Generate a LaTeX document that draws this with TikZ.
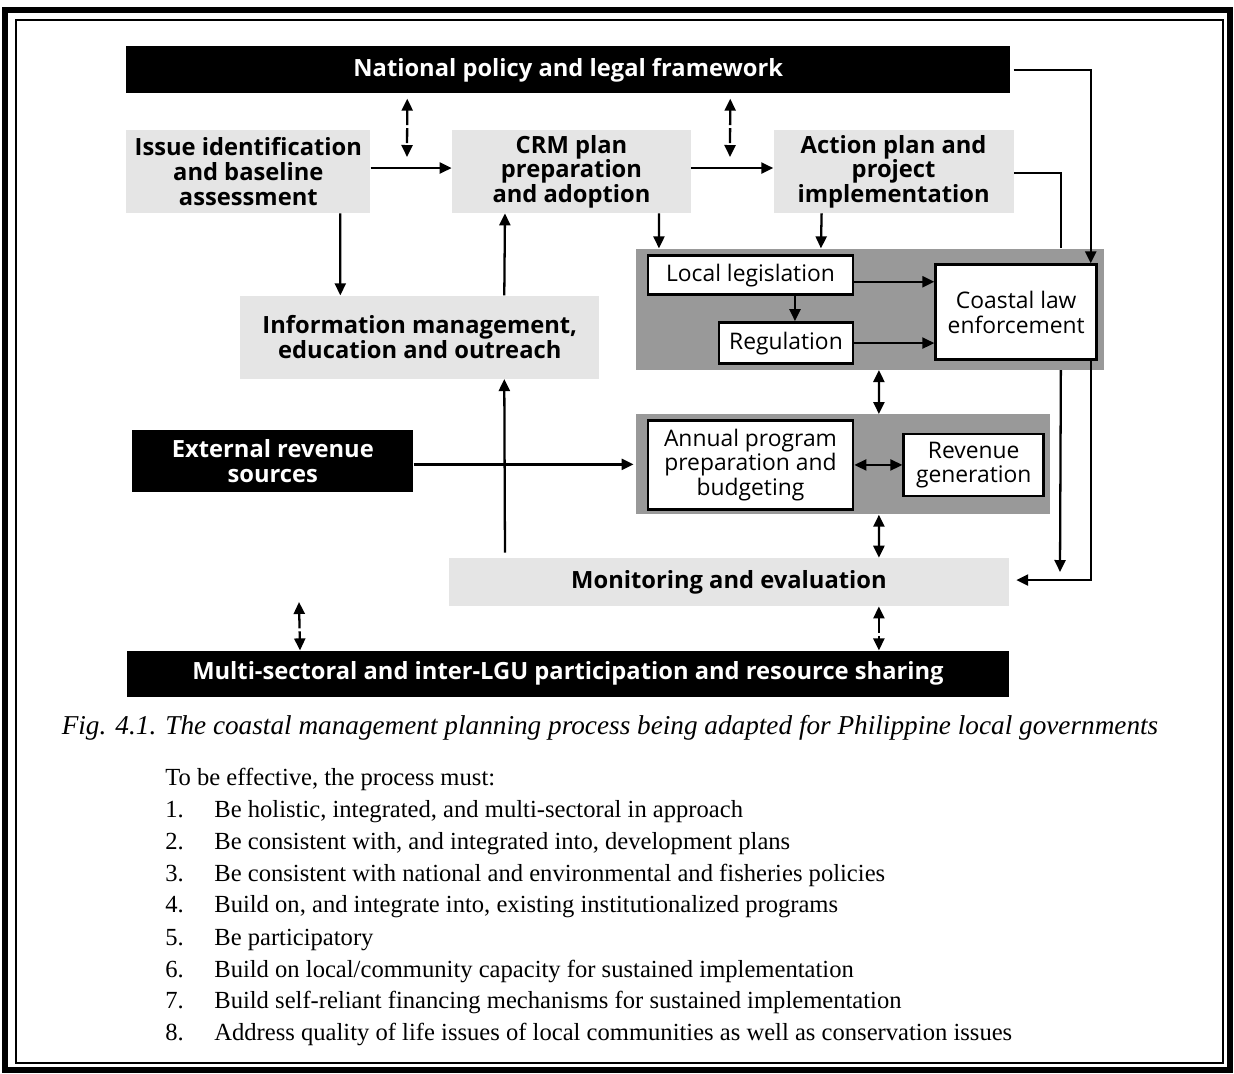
\documentclass[tikz,border=0pt]{standalone}
\usepackage{fontspec}
\setmainfont{Liberation Serif}
\setsansfont{Open Sans}
\usetikzlibrary{arrows.meta}

\begin{document}
\begin{tikzpicture}[x=0.02cm,y=-0.02cm]

\tikzstyle{barnode}=[rectangle,inner sep=0mm,fill=black,text=white,font=\sffamily\bfseries\fontsize{13.5}{14}\selectfont]
\tikzstyle{stepnode}=[rectangle,inner sep=0mm,fill=black!10,align=center,font=\sffamily\bfseries\fontsize{13.5}{14}\selectfont]
\tikzstyle{panelnode}=[rectangle,inner sep=0mm,fill=black!40]
\tikzstyle{whitenode}=[rectangle,inner sep=0mm,fill=white,draw,line width=1.6pt,align=center,font=\sffamily\fontsize{13}{14}\selectfont]
\tikzstyle{listnode}=[anchor=base west,inner sep=0mm,font=\fontsize{14}{15}\selectfont]
\tikzstyle{arr}=[-{Triangle[length=0.24cm,width=0.22cm]},line width=1.3pt]
\tikzstyle{darr}=[{Triangle[length=0.24cm,width=0.22cm]}-{Triangle[length=0.24cm,width=0.22cm]},line width=1.3pt]
\tikzstyle{dashdarr}=[darr,dash pattern=on 0.3cm off 0.06cm]

\useasboundingbox (0,0) rectangle (1234,1073);

% frame
\draw[line width=3.4pt] (5,10) rectangle (1230,1070);
\draw[line width=0.8pt] (16,20) rectangle (1223,1063);

\begin{scope}[]

\node [anchor=north west,barnode,minimum width=17.68cm,minimum height=0.94cm] (nat) at (126,46){National policy and legal framework};
\node [anchor=north west,stepnode,minimum width=4.88cm,minimum height=1.66cm] (issue) at ([xshift=0cm,yshift=-0.72cm]nat.south west){Issue identification\\and baseline\\assessment};
\node [anchor=west,stepnode,minimum width=4.78cm,minimum height=1.66cm] (crm) at ([xshift=1.62cm,yshift=0cm]issue.east){CRM plan\\preparation\\and adoption};
\node [anchor=west,stepnode,minimum width=4.8cm,minimum height=1.66cm] (action) at ([xshift=1.64cm,yshift=0cm]crm.east){Action plan and\\project\\implementation};
\node [anchor=north west,stepnode,minimum width=7.18cm,minimum height=1.66cm] (info) at ([xshift=2.28cm,yshift=-1.64cm]issue.south west){Information management,\\education and outreach};

\node [anchor=north west,panelnode,minimum width=9.36cm,minimum height=2.42cm] (panel1) at ([xshift=3.68cm,yshift=-0.7cm]crm.south west){};
\node [anchor=north west,whitenode,minimum width=4.1cm,minimum height=0.78cm] (local) at ([xshift=0.22cm,yshift=-0.12cm]panel1.north west){Local legislation};
\node [anchor=north east,whitenode,minimum width=2.68cm,minimum height=0.82cm] (reg) at ([xshift=0cm,yshift=-0.5cm]local.south east){Regulation};
\node [anchor=north west,whitenode,minimum width=3.22cm,minimum height=1.9cm] (coastal) at ([xshift=1.6cm,yshift=-0.18cm]local.north east){Coastal law\\enforcement};

\node [anchor=north west,panelnode,minimum width=8.28cm,minimum height=2cm] (panel2) at ([xshift=0cm,yshift=-0.88cm]panel1.south west){};
\node [anchor=north west,whitenode,minimum width=4.1cm,minimum height=1.78cm] (annual) at ([xshift=0.22cm,yshift=-0.1cm]panel2.north west){Annual program\\preparation and\\budgeting};
\node [anchor=west,whitenode,minimum width=2.8cm,minimum height=1.24cm] (revenue) at ([xshift=0.96cm,yshift=0cm]annual.east){Revenue\\generation};

\node [anchor=east,barnode,align=center,minimum width=5.62cm,minimum height=1.24cm] (ext) at ([xshift=-4.44cm,yshift=0.06cm]panel2.west){External revenue\\sources};
\node [anchor=north east,stepnode,minimum width=11.2cm,minimum height=0.96cm] (monitor) at ([xshift=-0.82cm,yshift=-0.86cm]panel2.south east){Monitoring and evaluation};
\node [anchor=north east,barnode,minimum width=17.64cm,minimum height=0.92cm] (multi) at ([xshift=0cm,yshift=-0.88cm]monitor.south east){Multi-sectoral and inter-LGU participation and resource sharing};

\coordinate (nd1) at (407,157);
\coordinate (nd2) at (730,157);
\coordinate (mdown) at (1060,572);
\coordinate (mleft) at (299,602);

\draw[dashdarr] ([xshift=-3.22cm,yshift=-0.1cm]nat.south)--(nd1);
\draw[dashdarr] ([xshift=3.24cm,yshift=-0.1cm]nat.south)--(nd2);
\draw[arr] ([xshift=0em,yshift=0.07cm]issue.east)--([xshift=0em,yshift=0.07cm]crm.west);
\draw[arr] ([xshift=0em,yshift=0.07cm]crm.east)--([xshift=0em,yshift=0.07cm]action.west);
\draw[arr] ([xshift=1.84cm,yshift=0em]issue.south)--([xshift=-1.59cm,yshift=0em]info.north);
\draw[arr] ([xshift=1.69cm,yshift=0em]info.north)--([xshift=-1.33cm,yshift=0em]crm.south);
\draw[arr] ([xshift=-4.48cm,yshift=0.1cm]monitor.north)--([xshift=1.69cm,yshift=0em]info.south);
\draw[arr] ([xshift=0em,yshift=-0.06cm]ext.east)--([xshift=-0.04cm,yshift=0em]panel2.west);
\draw[arr] ([xshift=1.75cm,yshift=0em]crm.south)--([xshift=-4.22cm,yshift=0em]panel1.north);
\draw[arr] ([xshift=-1.44cm,yshift=0em]action.south)--([xshift=-0.98cm,yshift=0em]panel1.north);
\draw[arr] ([xshift=0.89cm,yshift=0em]local.south)--([xshift=0.89cm,yshift=0em]local.south |- reg.north);
\draw[arr] ([xshift=0em,yshift=-0.13cm]local.east)--([xshift=0em,yshift=-0.13cm]local.east -| coastal.west);
\draw[arr] (reg.east)--(reg.east -| coastal.west);

\draw[arr] ([xshift=0.06cm,yshift=0em]nat.east) -| ([xshift=1.49cm,yshift=0em]coastal.north);
\draw[line width=1.3pt] ([xshift=0em,yshift=-0.03cm]action.east) -| ([xshift=3.82cm,yshift=0em]panel1.north);
\draw[arr] ([xshift=3.82cm,yshift=0em]panel1.south)--(mdown);
\draw[arr] ([xshift=1.49cm,yshift=0em]coastal.south) |- ([xshift=0.14cm,yshift=0.04cm]monitor.east);

\draw[darr] ([xshift=0.18cm,yshift=0em]panel1.south)--([xshift=0.72cm,yshift=0em]panel2.north);
\draw[darr] ([xshift=0.72cm,yshift=0em]panel2.south)--([xshift=3cm,yshift=0em]monitor.north);
\draw[darr] (annual.east)--(annual.east -| revenue.west);
\draw[dashdarr] ([xshift=3cm,yshift=0em]monitor.south)--([xshift=6.22cm,yshift=0em]multi.north);
\draw[dashdarr] (mleft)--([xshift=-5.36cm,yshift=0em]multi.north);

\end{scope}

% caption and list
\node [inner sep=0mm,font=\itshape\fontsize{15.5}{16}\selectfont] (cap) at (610,728){Fig. 4.1. The coastal management planning process being adapted for Philippine local governments};

\node [listnode] (intro) at (165,785){To be effective, the process must:};
\node [listnode] (n1) at (165,817){1.};
\node [listnode] (t1) at (214,817){Be holistic, integrated, and multi-sectoral in approach};
\node [listnode] (n2) at (165,849){2.};
\node [listnode] (t2) at (214,849){Be consistent with, and integrated into, development plans};
\node [listnode] (n3) at (165,881){3.};
\node [listnode] (t3) at (214,881){Be consistent with national and environmental and fisheries policies};
\node [listnode] (n4) at (165,912){4.};
\node [listnode] (t4) at (214,912){Build on, and integrate into, existing institutionalized programs};
\node [listnode] (n5) at (165,945){5.};
\node [listnode] (t5) at (214,945){Be participatory};
\node [listnode] (n6) at (165,977){6.};
\node [listnode] (t6) at (214,977){Build on local/community capacity for sustained implementation};
\node [listnode] (n7) at (165,1008){7.};
\node [listnode] (t7) at (214,1008){Build self-reliant financing mechanisms for sustained implementation};
\node [listnode] (n8) at (165,1040){8.};
\node [listnode] (t8) at (214,1040){Address quality of life issues of local communities as well as conservation issues};

\end{tikzpicture}
\end{document}
